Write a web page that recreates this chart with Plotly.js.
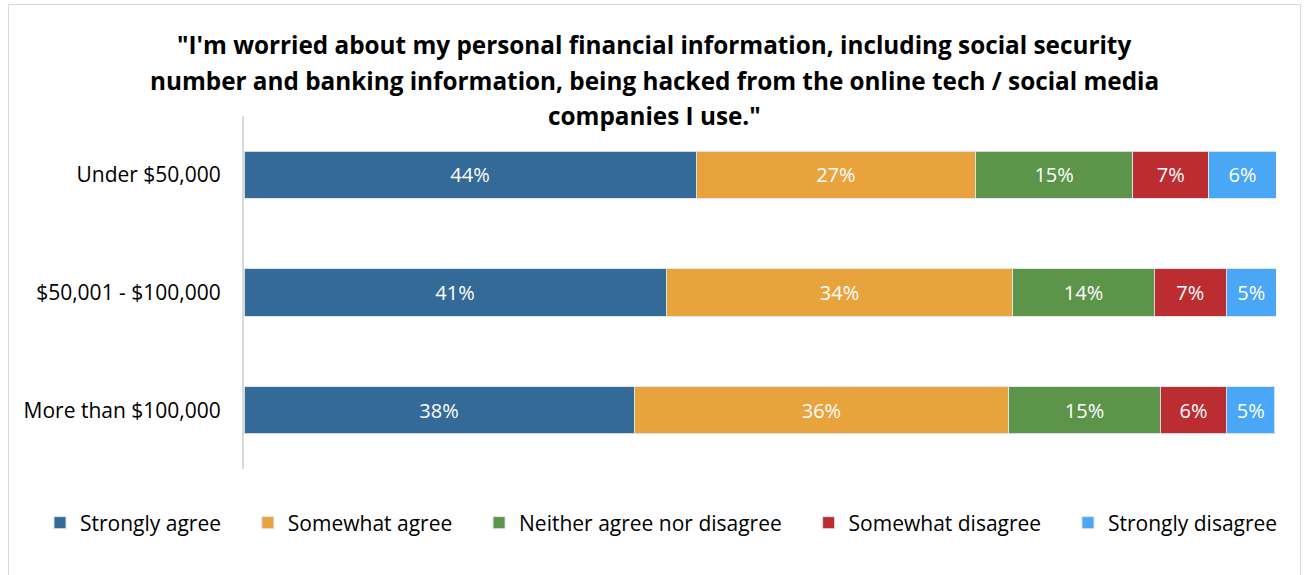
<!DOCTYPE html>
<html>
<head>
<meta charset="utf-8">
<script src="https://cdn.plot.ly/plotly-3.0.1.min.js"></script>
<style>
  html, body { margin: 0; padding: 0; background: #fff; }
  #wrap { position: relative; width: 1304px; height: 575px; }
  #frame { position: absolute; left: 8px; top: 4px; width: 1293px; height: 590px; border: 1px solid #d9d9d9; box-sizing: border-box; pointer-events: none; }
  #chart { position: absolute; left: 0; top: 0; width: 1304px; height: 575px; }
</style>
</head>
<body>
<div id="wrap">
  <div id="chart"></div>
  <div id="frame"></div>
</div>
<script>
const categories = ["Under $50,000", "$50,001 - $100,000", "More than $100,000"];
const seriesNames = ["Strongly agree", "Somewhat agree", "Neither agree nor disagree", "Somewhat disagree", "Strongly disagree"];
const stronglyAgree = [43.8, 40.9, 37.8];
const somewhatAgree = [27.1, 33.6, 36.3];
const neither = [15.2, 13.7, 14.7];
const somewhatDisagree = [7.4, 7.0, 6.4];
const stronglyDisagree = [6.5, 4.8, 4.7];
const labelsStronglyAgree = ["44%", "41%", "38%"];
const labelsSomewhatAgree = ["27%", "34%", "36%"];
const labelsNeither = ["15%", "14%", "15%"];
const labelsSomewhatDisagree = ["7%", "7%", "6%"];
const labelsStronglyDisagree = ["6%", "5%", "5%"];
const titleLines = [
  "\"I'm worried about my personal financial information, including social security",
  "number and banking information, being hacked from the online tech / social media",
  "companies I use.\""
];
const colors = ["#336a97", "#e8a33d", "#5c944a", "#bb2d31", "#4aa7f5"];

const values = [stronglyAgree, somewhatAgree, neither, somewhatDisagree, stronglyDisagree];
const labels = [labelsStronglyAgree, labelsSomewhatAgree, labelsNeither, labelsSomewhatDisagree, labelsStronglyDisagree];

const font = "Open Sans, Lato, sans-serif";
const traces = seriesNames.map((name, i) => ({
  type: "bar",
  orientation: "h",
  name: name + "\u00a0\u00a0\u00a0\u00a0",
  y: categories,
  x: values[i],
  text: labels[i],
  textposition: "inside",
  insidetextanchor: "middle",
  textfont: { color: "#ffffff", size: 20, family: font },
  marker: { color: colors[i], line: { color: "rgba(220,230,240,0.9)", width: 1 } },
  width: 0.4,
  hoverinfo: "name+text"
}));

// plot area spans pixel y 116..469 (height 353)
const titleY = [45, 80, 115];
const annotations = titleLines.map((t, i) => ({
  text: "<b>" + t + "</b>",
  xref: "paper", yref: "paper",
  x: (654 - 244) / 1032, xanchor: "center",
  y: (469 - titleY[i]) / 353, yanchor: "middle",
  showarrow: false,
  font: { family: font, size: 24.3, color: "#000000" }
}));

const layout = {
  width: 1304,
  height: 575,
  paper_bgcolor: "rgba(0,0,0,0)",
  plot_bgcolor: "rgba(0,0,0,0)",
  barmode: "stack",
  margin: { l: 244, r: 28, t: 116, b: 106 },
  annotations: annotations,
  xaxis: {
    range: [0, 100],
    showgrid: false, zeroline: false, showticklabels: false, showline: false, ticks: ""
  },
  yaxis: {
    autorange: "reversed",
    showgrid: false, zeroline: false,
    showline: true, linecolor: "#d9d9d9", linewidth: 2,
    ticks: "", ticklabelstandoff: 17,
    tickfont: { family: font, size: 21, color: "#000000" }
  },
  legend: {
    orientation: "h",
    x: (40 - 244) / 1032, xanchor: "left",
    y: -54 / 353, yanchor: "middle",
    font: { family: font, size: 21, color: "#000000" },
    traceorder: "normal",
    itemwidth: 30
  },
  showlegend: true,
  uniformtext: { mode: "show", minsize: 10 }
};

Plotly.newPlot("chart", traces, layout, { displayModeBar: false, staticPlot: true });
</script>
</body>
</html>
